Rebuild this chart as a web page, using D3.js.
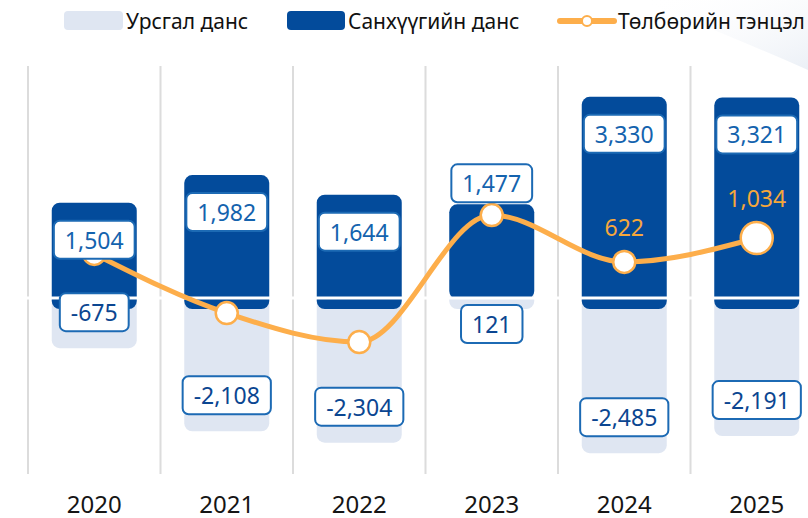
<!DOCTYPE html>
<html><head><meta charset="utf-8">
<script src="https://cdn.jsdelivr.net/npm/d3@7"></script>
<style>
html,body{margin:0;padding:0;background:#fff;}
svg{display:block;font-family:"Noto Sans",sans-serif;}
</style></head>
<body>
<svg id="chart" width="808" height="518"></svg>
<script>
const years = ["2020","2021","2022","2023","2024","2025"];
const currentAccount = [-675, -2108, -2304, 121, -2485, -2191];
const financialAccount = [1504, 1982, 1644, 1477, 3330, 3321];
const balance = [760, -260, -760, 1430, 622, 1034];
const balanceLabels = [null, null, null, null, "622", "1,034"];
const legendLabels = ["Урсгал данс", "Санхүүгийн данс", "Төлбөрийн тэнцэл"];

const C = {light:"#dfe6f2", dark:"#034b9b", orange:"#fdae4b", grid:"#dcdcdc",
  boxStroke:"#1c6ab4", darkTxt:"#1463ae", lightTxt:"#0b4691", orangeTxt:"#f6a73b"};

const svg = d3.select("#chart");
const fmt = d3.format(",");

const x = d3.scaleBand().domain(years).range([28, 823]).paddingInner(0).paddingOuter(0);
const y = d3.scaleLinear().domain([-3000, 4000]).range([472, 66]);
const barW = 85, ext = 11, extTop = 8, r = 8;
const y0 = y(0);
const cx = d => x(d) + x.bandwidth()/2;

// faint corner decoration
const defs = svg.append("defs");
const g1 = defs.append("linearGradient").attr("id","bgG").attr("x1","0").attr("y1","0").attr("x2","1").attr("y2","1");
g1.append("stop").attr("offset","0").attr("stop-color","#ffffff").attr("stop-opacity",0);
g1.append("stop").attr("offset","1").attr("stop-color","#e9eef5").attr("stop-opacity",0.9);
svg.append("path").attr("d","M640,0 L808,0 L808,70 Q740,40 640,0 Z").attr("fill","url(#bgG)");

// gridlines (band edges)
const edges = years.map(d => x(d));
svg.append("g").selectAll("line").data(edges).join("line")
  .attr("x1", d=>d).attr("x2", d=>d).attr("y1", y.range()[1]).attr("y2", y.range()[0]+2)
  .attr("stroke", C.grid).attr("stroke-width", 2);

// current account (light) bars
svg.append("g").selectAll("rect").data(years).join("rect")
  .attr("x", d => cx(d) - barW/2).attr("width", barW)
  .attr("y", (d,i) => currentAccount[i] < 0 ? y0 - r : y(currentAccount[i]))
  .attr("height", (d,i) => currentAccount[i] < 0 ? (y(currentAccount[i]) + ext) - (y0 - r) : (y0 + ext) - y(currentAccount[i]))
  .attr("rx", r).attr("fill", C.light);

// financial account (dark) bars
svg.append("g").selectAll("rect").data(years).join("rect")
  .attr("x", d => cx(d) - barW/2).attr("width", barW)
  .attr("y", (d,i) => y(financialAccount[i]) - extTop)
  .attr("height", (d,i) => (currentAccount[i] < 0 ? y0 + ext : y0 + 1) - (y(financialAccount[i]) - extTop))
  .attr("rx", r).attr("fill", C.dark);

// zero line
svg.append("line").attr("x1", 20).attr("x2", 808).attr("y1", y0).attr("y2", y0)
  .attr("stroke", "#fff").attr("stroke-width", 3);

// balance line
const line = d3.line().x((d,i)=>cx(years[i])).y(d=>y(d)).curve(d3.curveMonotoneX);
svg.append("path").datum(balance).attr("d", line)
  .attr("fill","none").attr("stroke", C.orange).attr("stroke-width", 5).attr("stroke-linecap","round");
const markR = i => i === years.length-1 ? 16 : 11;
svg.append("g").selectAll("circle").data(balance).join("circle")
  .attr("cx",(d,i)=>cx(years[i])).attr("cy", d=>y(d)).attr("r",(d,i)=>markR(i))
  .attr("fill","#fff").attr("stroke", C.orange).attr("stroke-width", 2.5);
const bl = svg.append("g");
balance.forEach((v,i)=>{
  if(!balanceLabels[i]) return;
  bl.append("text").attr("x", cx(years[i])).attr("y", y(v) - markR(i) - 24)
    .attr("text-anchor","middle").attr("dominant-baseline","central")
    .attr("font-size", 23).attr("fill", C.orangeTxt).text(balanceLabels[i]);
});

// value label boxes
function labelBox(g, cxv, cyv, txt, color){
  const t = g.append("text").attr("x", cxv).attr("y", cyv).attr("text-anchor","middle")
    .attr("dominant-baseline","central").attr("font-size", 23).attr("fill", color).text(txt);
  const w = t.node().getComputedTextLength() + 22, h = 38;
  g.insert("rect","text").attr("x", cxv - w/2).attr("y", cyv - h/2).attr("width", w).attr("height", h)
    .attr("rx", 6).attr("fill","#fff").attr("stroke", C.boxStroke).attr("stroke-width", 2);
}
// financial labels: inside the bar top; 2023 sits above the bar (line marker occupies the inside)
years.forEach((d,i)=>{
  const top = y(financialAccount[i]) - extTop;
  const cyv = (i === 3) ? top - 21 : top + 37;
  labelBox(svg.append("g"), cx(d), cyv, fmt(financialAccount[i]), C.darkTxt);
});
years.forEach((d,i)=>{
  const v = currentAccount[i];
  const cyv = v < 0 ? y(v) + ext - 36 : y0 + 26;
  labelBox(svg.append("g"), cx(d), cyv, fmt(v).replace("−","-"), C.lightTxt);
});

// x axis labels
svg.append("g").selectAll("text").data(years).join("text")
  .attr("x", d=>cx(d)).attr("y", 503).attr("text-anchor","middle").attr("dominant-baseline","central")
  .attr("font-size", 24).attr("font-weight", 400).attr("fill","#151515").text(d=>d);

// legend
const lg = svg.append("g").attr("font-size", 21).attr("fill","#111");
lg.append("rect").attr("x",64).attr("y",11).attr("width",59).attr("height",19).attr("rx",4).attr("fill",C.light);
lg.append("text").attr("x",126).attr("y",21).attr("dominant-baseline","central").text(legendLabels[0]);
lg.append("rect").attr("x",287).attr("y",11).attr("width",58).attr("height",19).attr("rx",4).attr("fill",C.dark);
lg.append("text").attr("x",348).attr("y",21).attr("dominant-baseline","central").text(legendLabels[1]);
lg.append("line").attr("x1",560).attr("x2",614).attr("y1",21).attr("y2",21).attr("stroke",C.orange).attr("stroke-width",6).attr("stroke-linecap","round");
lg.append("circle").attr("cx",587).attr("cy",21).attr("r",5).attr("fill","#fff").attr("stroke",C.orange).attr("stroke-width",2);
lg.append("text").attr("x",618).attr("y",21).attr("dominant-baseline","central").text(legendLabels[2]);
</script>
</body></html>
